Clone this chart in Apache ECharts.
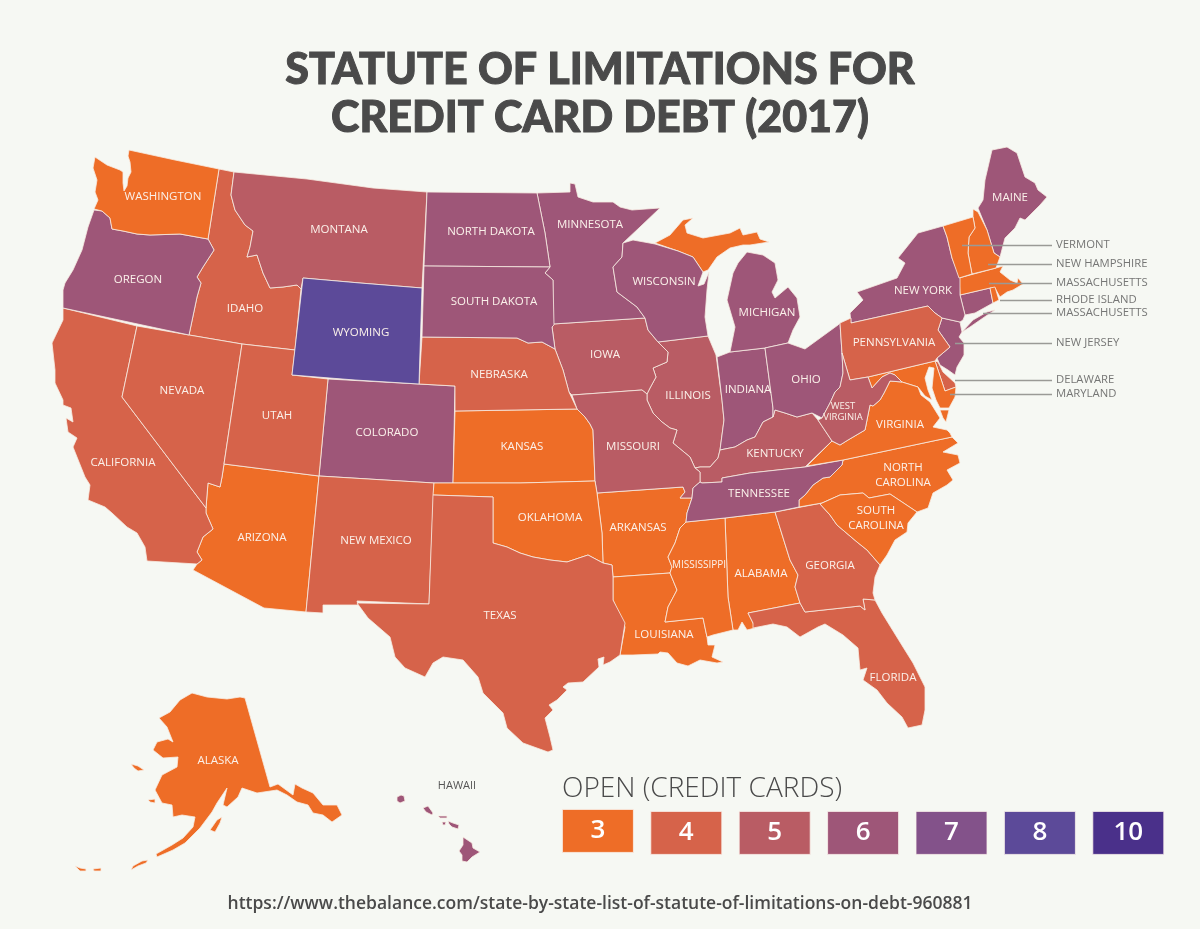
<!DOCTYPE html>
<html>
<head>
    <meta charset="utf-8">
    <title>Statute of limitations for credit card debt (2017)</title>
    <script src="https://cdn.jsdelivr.net/npm/echarts@6/dist/echarts.min.js"></script>
    <style>
        html, body { margin: 0; padding: 0; background: #f6f8f3; }
        #chart { width: 1200px; height: 929px; }
    </style>
</head>
<body>
<div id="chart"></div>
<script type="text/javascript">
    var titleText = 'STATUTE OF LIMITATIONS FOR\nCREDIT CARD DEBT (2017)';
    var legendTitle = 'OPEN (CREDIT CARDS)';
    var sourceText = 'https://www.thebalance.com/state-by-state-list-of-statute-of-limitations-on-debt-960881';

    var legendValues = [3, 4, 5, 6, 7, 8, 10];
    var legendColors = ['#ee6d27', '#d6634a', '#b95c64', '#9e5678', '#83528a', '#5c4a99', '#4a308a'];

    var stateNames = ['ALABAMA', 'ALASKA', 'ARIZONA', 'ARKANSAS', 'CALIFORNIA', 'COLORADO', 'CONNECTICUT', 'DELAWARE',
        'FLORIDA', 'GEORGIA', 'HAWAII', 'IDAHO', 'ILLINOIS', 'INDIANA', 'IOWA', 'KANSAS', 'KENTUCKY', 'LOUISIANA',
        'MAINE', 'MARYLAND', 'MASSACHUSETTS', 'MICHIGAN', 'UPPER MICHIGAN', 'MINNESOTA', 'MISSISSIPPI', 'MISSOURI',
        'MONTANA', 'NEBRASKA', 'NEVADA', 'NEW HAMPSHIRE', 'NEW JERSEY', 'NEW MEXICO', 'NEW YORK', 'NORTH CAROLINA',
        'NORTH DAKOTA', 'OHIO', 'OKLAHOMA', 'OREGON', 'PENNSYLVANIA', 'RHODE ISLAND', 'SOUTH CAROLINA', 'SOUTH DAKOTA',
        'TENNESSEE', 'TEXAS', 'UTAH', 'VERMONT', 'VIRGINIA', 'WASHINGTON', 'WEST VIRGINIA', 'WISCONSIN', 'WYOMING'];
    var stateValues = [3, 3, 3, 3, 4, 6, 6, 4,
        4, 4, 6, 4, 5, 6, 5, 3, 5, 3,
        6, 3, 3, 6, 3, 6, 3, 5,
        5, 4, 4, 3, 6, 4, 6, 3,
        6, 6, 3, 6, 4, 3, 3, 6,
        6, 4, 4, 3, 3, 3, 5, 6, 8];

    // the labels that sit outside the map, with a leader line
    var calloutNames = ['VERMONT', 'NEW HAMPSHIRE', 'MASSACHUSETTS', 'RHODE ISLAND', 'MASSACHUSETTS', 'NEW JERSEY', 'DELAWARE', 'MARYLAND'];
    var calloutY = [245, 264, 283, 300, 313, 343, 380, 394];
    var calloutFromX = [962, 988, 989, 1000, 983, 955, 955, 950];

    // state outlines for the base map, traced in picture units (x, y, x, y, ...)
    var stateShapes = {
        'WASHINGTON': [[93,168,95,157,107,165,120,170,123,172,123,183,124,191,127,186,128,178,131,172,130,162,128,156,129,150,175,160,219,169,208,239,180,234,150,235,137,234,123,231,112,229,110,218,102,211,94,209,98,200,95,192,97,180]],
        'OREGON': [[94,210,102,211,110,218,112,229,123,231,137,234,150,235,180,234,208,239,214,250,203,267,197,277,201,283,197,297,189,335,63,308,63,290,65,283,73,270,82,250,88,227]],
        'IDAHO': [[219,169,234,172,231,195,235,210,245,225,253,231,250,247,247,257,257,255,263,273,270,288,283,287,297,285,301,289,295,350,242,344,189,335,197,297,201,283,197,277,203,267,214,250,208,239]],
        'MONTANA': [[234,172,307,179,373,188,427,192,422,288,360,283,303,278,301,289,297,285,283,287,270,288,263,273,257,255,247,257,250,247,253,231,245,225,235,210,231,195]],
        'WYOMING': [[303,278,360,283,422,288,419,384,355,380,292,375]],
        'UTAH': [[242,344,295,350,292,375,328,379,319,476,224,464]],
        'NEVADA': [[137,326,189,335,242,344,224,464,222,477,220,487,208,483,207,495,206,508,122,397]],
        'CALIFORNIA': [[63,308,137,326,122,397,206,508,206,513,213,529,203,537,197,552,202,560,197,564,147,561,145,547,137,533,127,527,112,513,105,507,88,500,90,485,85,477,73,447,77,438,68,432,66,418,73,422,71,408,63,405,63,400,55,383,55,370,52,343,63,320]],
        'ARIZONA': [[224,464,319,476,306,612,264,608,193,570,197,564,202,560,197,552,203,537,213,529,206,513,206,508,207,495,208,483,220,487,222,477]],
        'NEW MEXICO': [[319,476,434,483,429,604,357,601,358,605,323,605,323,613,306,612]],
        'COLORADO': [[328,379,419,384,455,386,453,483,434,483,319,476]],
        'KANSAS': [[455,411,577,409,585,417,590,424,593,430,595,481,520,483,453,483]],
        'NEBRASKA': [[422,337,517,338,528,343,542,342,555,349,563,370,569,392,577,409,455,411,455,386,419,384]],
        'SOUTH DAKOTA': [[424,266,550,267,545,273,553,280,554,325,552,327,555,349,542,342,528,343,517,338,422,337]],
        'NORTH DAKOTA': [[427,192,537,193,545,233,550,267,424,266]],
        'MINNESOTA': [[537,193,570,192,570,183,575,184,578,197,593,202,613,202,620,207,632,210,660,208,640,227,623,243,622,257,613,267,617,292,637,307,645,318,553,324,554,325,553,280,545,273,550,267,545,233]],
        'WISCONSIN': [[623,243,633,240,655,244,678,251,693,257,703,272,698,286,704,284,709,272,707,290,705,317,708,336,658,342,648,330,645,318,637,307,617,292,613,267,622,257]],
        'UPPER MICHIGAN': [[655,243,670,235,683,220,693,218,685,225,687,233,703,238,730,233,740,228,743,235,757,232,760,239,769,242,750,245,743,245,730,248,717,257,708,270,703,272,693,257,678,251]],
        'MICHIGAN': [[747,252,763,255,775,263,778,280,772,292,775,298,788,287,797,298,800,317,793,330,788,343,765,348,730,352,735,327,727,300,733,273,738,263]],
        'IOWA': [[553,324,645,318,648,330,658,342,668,352,667,362,653,368,656,377,650,388,647,394,642,390,572,395,569,392,563,370,555,349,552,327]],
        'ILLINOIS': [[658,342,708,336,716,355,722,400,724,420,720,450,718,458,710,467,700,467,695,468,690,457,673,443,677,430,670,428,662,422,653,413,647,400,647,394,650,388,656,377,653,368,667,362,668,352]],
        'INDIANA': [[717,357,730,352,765,348,773,408,773,417,763,422,755,437,747,440,735,447,720,450,724,420,722,400]],
        'OHIO': [[765,348,788,343,805,349,838,325,840,323,842,353,843,373,840,387,835,392,830,403,822,418,812,413,797,417,785,413,775,410,773,417,773,408]],
        'MISSOURI': [[572,395,642,390,647,394,647,400,653,413,662,422,670,428,677,430,673,443,690,457,695,468,700,472,700,482,693,488,692,498,680,498,685,492,683,487,597,493,595,481,593,430,590,424,585,417,577,409]],
        'KENTUCKY': [[702,483,722,482,722,478,750,473,805,467,832,441,818,420,812,413,797,417,785,413,775,410,773,417,763,422,755,437,747,440,735,447,720,450,718,458,710,467,700,467,695,468,700,472,700,482]],
        'TENNESSEE': [[843,460,842,465,830,477,823,478,813,485,805,495,799,500,799,507,775,512,725,518,686,522,687,513,692,498,693,488,700,482,702,483,722,482,722,478,750,473,805,467]],
        'WEST VIRGINIA': [[850,380,868,377,872,388,882,377,890,373,895,375,902,382,890,381,884,393,880,400,873,406,870,405,865,430,848,440,840,445,832,441,818,420,822,418,830,403,835,392,840,387,843,373,842,353]],
        'PENNSYLVANIA': [[840,323,851,318,851,323,928,306,935,313,942,318,938,330,950,347,937,358,935,361,868,377,850,380,842,353]],
        'NEW YORK': [[851,323,850,313,863,300,857,292,877,285,897,278,905,263,898,258,918,233,943,226,947,237,952,258,960,278,960,295,965,315,963,320,960,322,942,318,935,313,928,306],
            [962,332,973,320,987,312,995,310,983,318,970,327]],
        'VERMONT': [[943,226,973,217,975,228,969,237,968,253,972,274,959,278,952,258,947,237]],
        'NEW HAMPSHIRE': [[973,209,978,212,987,230,994,253,1000,257,996,268,972,274,968,253,969,237,975,228,973,217]],
        'MAINE': [[978,208,983,200,985,180,992,150,1007,147,1017,153,1025,177,1035,183,1038,190,1047,197,1040,205,1032,213,1025,220,1020,218,1015,228,1005,238,1000,257,994,253,987,230]],
        'MASSACHUSETTS': [[959,278,996,268,1003,266,1000,272,1010,280,1017,283,1018,278,1023,284,1013,290,1007,292,1000,297,995,288,990,288,960,295]],
        'RHODE ISLAND': [[990,288,995,287,999,300,993,303]],
        'CONNECTICUT': [[960,295,990,288,993,303,975,313,965,315]],
        'NEW JERSEY': [[942,318,960,322,962,332,959,337,964,343,964,355,957,367,955,375,948,370,940,365,937,358,950,347,938,330]],
        'DELAWARE': [[935,361,938,362,943,372,955,383,956,387,945,391]],
        'MARYLAND': [[868,377,935,361,945,391,956,387,955,397,949,408,940,408,936,400,932,388,934,368,929,367,925,378,928,390,932,400,925,396,918,387,902,382,895,375,890,373,882,377,872,388]],
        'VIRGINIA': [[807,466,832,441,840,445,848,440,865,430,870,405,873,406,880,400,884,393,890,381,902,382,918,387,921,395,930,402,935,410,940,418,933,427,947,430,950,433,952,437,843,460],
            [940,410,949,410,946,422,943,418]],
        'NORTH CAROLINA': [[843,460,952,437,958,443,943,452,958,455,960,463,947,470,953,480,947,485,933,493,928,508,917,512,890,494,869,498,863,493,840,495,822,503,799,507,799,500,805,495,813,485,823,478,830,477,842,465]],
        'SOUTH CAROLINA': [[820,504,840,495,863,493,869,498,890,494,917,512,908,523,907,532,895,540,887,555,880,565,867,550,857,542,837,525,830,515]],
        'GEORGIA': [[775,512,822,503,820,504,830,515,837,525,857,542,867,550,880,565,875,577,873,593,875,600,863,599,865,610,860,606,805,612,800,603,795,587,798,575,790,560]],
        'ALABAMA': [[725,518,775,512,790,560,798,575,795,587,800,603,748,613,753,623,755,628,747,630,742,622,738,630,733,630,728,597]],
        'MISSISSIPPI': [[686,522,725,518,728,597,733,630,713,635,707,637,703,618,665,622,668,607,677,590,670,573,672,567,668,557,675,543,680,528]],
        'LOUISIANA': [[613,577,670,573,677,590,668,607,665,622,703,618,707,637,708,645,715,645,712,657,723,662,717,663,700,660,688,666,677,663,668,653,660,652,658,654,633,655,620,655,625,627,613,600]],
        'ARKANSAS': [[597,493,683,487,685,492,680,498,692,498,687,513,686,522,680,528,675,543,668,557,672,567,670,573,613,577,612,565,603,563,602,533]],
        'OKLAHOMA': [[434,483,453,483,520,483,595,481,597,493,602,533,603,563,588,555,567,562,550,560,533,557,520,553,507,547,493,543,493,497,433,495]],
        'TEXAS': [[433,495,493,497,493,543,507,547,520,553,533,557,550,560,567,562,588,555,603,563,612,565,613,577,613,600,625,623,620,655,610,662,603,665,604,657,598,659,599,667,583,682,568,683,563,687,567,690,557,700,549,705,553,710,545,718,550,737,553,750,548,752,523,743,507,728,503,713,483,693,478,677,463,660,443,657,433,663,425,677,405,668,395,657,390,637,368,618,357,603,429,604]],
        'FLORIDA': [[748,613,800,603,805,612,860,606,865,610,863,599,875,600,882,613,903,647,913,663,925,687,925,710,922,725,908,728,902,717,887,703,877,690,863,680,867,668,860,670,858,648,843,635,825,624,818,627,800,637,787,627,773,624,753,628,753,623]],
        'ALASKA': [[245,698,270,787,278,784,293,795,295,784,302,788,313,793,323,805,337,805,342,815,332,822,323,815,313,813,308,805,297,802,287,795,277,790,257,793,242,788,238,797,227,807,223,805,227,788,217,803,212,812,200,828,185,843,173,850,157,857,156,854,172,845,183,838,193,827,195,817,182,815,173,817,172,805,162,803,155,790,162,775,177,767,178,757,163,758,153,750,157,742,168,739,173,742,167,727,159,718,170,712,180,700,192,693,207,697,227,699,240,697],
            [131,764,138,766,144,770,138,771,134,768],
            [148,800,155,799,155,803,150,802],
            [210,830,217,820,222,817,220,823,215,832],
            [142,861,148,860,146,863,138,866,131,870,133,866],
            [93,869,101,868,101,871,94,871],
            [75,866,80,868,86,869,86,871,80,871]],
        'HAWAII': [[397,797,401,795,404,796,405,801,400,803,397,801],
            [423,808,428,806,433,813,432,815,426,812],
            [438,816,447,816,447,818,440,818],
            [442,822,446,822,445,825,443,825],
            [448,821,453,823,459,825,458,829,452,827,449,824],
            [463,837,472,843,473,848,480,852,472,857,467,862,462,861,462,855,459,851,463,845]]
    };

    // where each label sits
    var labelCenters = {
        'ALABAMA': [761,574], 'ALASKA': [218,761], 'ARIZONA': [262,538], 'ARKANSAS': [638,528], 'CALIFORNIA': [123,463],
        'COLORADO': [387,433], 'FLORIDA': [893,678], 'GEORGIA': [830,566], 'HAWAII': [457,786], 'IDAHO': [245,309],
        'ILLINOIS': [688,396], 'INDIANA': [748,390], 'IOWA': [605,355], 'KANSAS': [522,447], 'KENTUCKY': [775,454],
        'LOUISIANA': [664,635], 'MAINE': [1010,198], 'MICHIGAN': [767,313], 'MINNESOTA': [590,225], 'MISSISSIPPI': [699,565],
        'MISSOURI': [633,447], 'MONTANA': [339,230], 'NEBRASKA': [499,375], 'NEVADA': [182,391], 'NEW MEXICO': [376,541],
        'NEW YORK': [923,291], 'NORTH CAROLINA': [903,475], 'NORTH DAKOTA': [491,232], 'OHIO': [806,380], 'OKLAHOMA': [550,518],
        'OREGON': [138,280], 'PENNSYLVANIA': [894,343], 'SOUTH CAROLINA': [876,518], 'SOUTH DAKOTA': [494,302], 'TENNESSEE': [759,494],
        'TEXAS': [500,616], 'UTAH': [277,416], 'VIRGINIA': [900,425], 'WASHINGTON': [163,197], 'WEST VIRGINIA': [843,412],
        'WISCONSIN': [664,282], 'WYOMING': [361,333]
    };

    var textFont = '"Open Sans", sans-serif';
    var titleFont = 'Lato, sans-serif';

    function toRing(flat) {
        var ring = [];
        for (var i = 0; i < flat.length; i += 2) {
            ring.push([flat[i], flat[i + 1]]);
        }
        ring.push([flat[0], flat[1]]);
        return [ring];
    }

    var usaMap = {
        type: 'FeatureCollection',
        features: stateNames.map(function (name) {
            return {
                type: 'Feature',
                properties: {name: name, cp: labelCenters[name] || toRing(stateShapes[name][0])[0][0]},
                geometry: {type: 'MultiPolygon', coordinates: stateShapes[name].map(toRing)}
            };
        })
    };
    echarts.registerMap('usa', usaMap);

    // special cases: two line names, smaller names, names that are drawn outside
    var regionLabels = [
        {name: 'NORTH CAROLINA', label: {formatter: 'NORTH\nCAROLINA'}},
        {name: 'SOUTH CAROLINA', label: {formatter: 'SOUTH\nCAROLINA'}},
        {name: 'WEST VIRGINIA', label: {formatter: 'WEST\nVIRGINIA', fontSize: 9.5, lineHeight: 11}},
        {name: 'MISSISSIPPI', label: {fontSize: 10}},
        {name: 'HAWAII', label: {color: '#555555', fontSize: 11}}
    ];
    ['UPPER MICHIGAN', 'VERMONT', 'NEW HAMPSHIRE', 'MASSACHUSETTS', 'RHODE ISLAND', 'CONNECTICUT', 'NEW JERSEY', 'DELAWARE', 'MARYLAND'].forEach(function (name) {
        regionLabels.push({name: name, label: {show: false}});
    });

    var legendGraphic = [{
        type: 'text', left: 562, top: 775,
        style: {text: legendTitle, font: '300 28px ' + textFont, fill: '#4a4a4a'}
    }];
    legendValues.forEach(function (v, i) {
        var x = 562 + i * 88.4;
        legendGraphic.push({
            type: 'group', left: x, top: i === 0 ? 809 : 811,
            children: [
                {type: 'rect', shape: {x: 0, y: 0, width: 71, height: 43}, style: {fill: legendColors[i], stroke: '#fbf3ec', lineWidth: 0.8}},
                {type: 'text', x: 35.5, y: 21.5, style: {text: String(v), font: '600 26px ' + textFont, fill: '#ffffff', align: 'center', verticalAlign: 'middle'}}
            ]
        });
    });

    var myChart = echarts.init(document.getElementById('chart'), null, {renderer: 'canvas'});
    myChart.setOption({
        backgroundColor: '#f6f8f3',
        animation: false,
        title: [{
            text: titleText, left: 'center', top: 41,
            textStyle: {color: '#4a4a4a', fontFamily: titleFont, fontWeight: 900, fontSize: 43, lineHeight: 48,
                textBorderColor: '#4a4a4a', textBorderWidth: 1}
        }, {
            text: sourceText, left: 'center', top: 890,
            textStyle: {color: '#4a4a4a', fontFamily: textFont, fontWeight: 600, fontSize: 17.5}
        }],
        tooltip: {show: false},
        visualMap: {
            show: false, type: 'piecewise', seriesIndex: 0,
            pieces: legendValues.map(function (v, i) { return {value: v, color: legendColors[i]}; })
        },
        geo: {
            map: 'usa',
            projection: {
                project: function (p) { return p; },
                unproject: function (p) { return p; }
            },
            boundingCoords: [[0, 0], [1200, 929]],
            layoutCenter: ['50%', '50%'],
            layoutSize: 1200,
            roam: false,
            silent: true,
            itemStyle: {borderColor: '#f8ece2', borderWidth: 0.8},
            label: {show: true, color: '#fbf1ea', fontFamily: textFont, fontSize: 11.5, lineHeight: 15},
            regions: regionLabels
        },
        series: [{
            type: 'map', geoIndex: 0,
            data: stateNames.map(function (name, i) { return {name: name, value: stateValues[i]}; })
        }, {
            type: 'lines', coordinateSystem: 'geo', silent: true, zlevel: 1,
            lineStyle: {color: '#9a9a96', width: 1.3, opacity: 1, curveness: 0},
            data: calloutY.map(function (y, i) { return {coords: [[calloutFromX[i], y], [1052, y]]}; })
        }, {
            type: 'scatter', coordinateSystem: 'geo', silent: true, symbolSize: 0,
            label: {
                show: true, position: 'right', distance: 4, color: '#555555', fontFamily: textFont, fontSize: 11.3,
                formatter: function (p) { return p.name; }
            },
            data: calloutY.map(function (y, i) { return {name: calloutNames[i], value: [1052, y]}; })
        }],
        graphic: legendGraphic
    });
</script>
</body>
</html>
